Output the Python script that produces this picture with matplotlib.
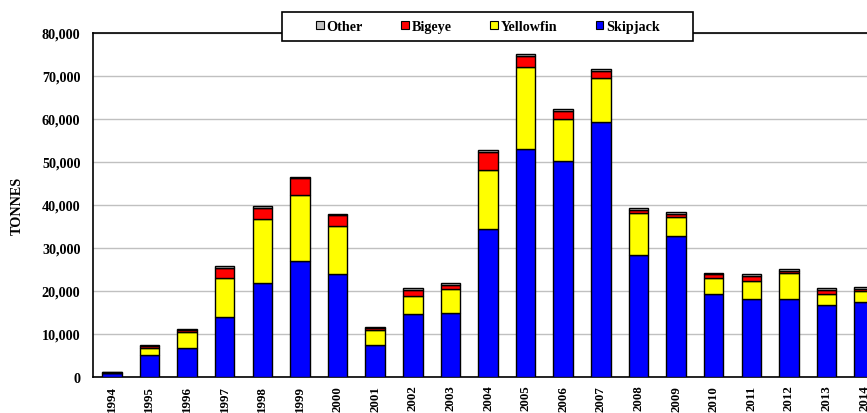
import matplotlib
matplotlib.use("Agg")
import matplotlib.pyplot as plt
from matplotlib.patches import Rectangle, Patch
from matplotlib.ticker import FuncFormatter
import numpy as np

years = [str(y) for y in range(1994, 2015)]
skipjack = [900, 5100, 6750, 13900, 21800, 26900, 23900, 7400, 14650, 14900, 34400,
            52950, 50200, 59300, 28400, 32900, 19400, 18150, 18150, 16750, 17350]
yellowfin = [100, 1650, 3650, 9050, 14900, 15500, 11300, 3500, 4100, 5600, 13650,
             19050, 9850, 10300, 9850, 4200, 3550, 4200, 5950, 2550, 2550]
bigeye = [50, 450, 500, 2450, 2550, 3800, 2400, 400, 1500, 900, 4200,
          2700, 1850, 1550, 600, 850, 950, 1150, 600, 950, 600]
other = [200, 300, 350, 500, 450, 400, 400, 300, 400, 400, 450,
         450, 400, 400, 400, 400, 400, 400, 400, 400, 450]

series = [("Skipjack", skipjack, "#0000FF"),
          ("Yellowfin", yellowfin, "#FFFF00"),
          ("Bigeye", bigeye, "#FF0000"),
          ("Other", other, "#C0C0C0")]

plt.rcParams['font.family'] = ['Liberation Serif', 'DejaVu Serif']
plt.rcParams['font.weight'] = 'bold'

FS = 10.2
W, H = 867, 414
fig = plt.figure(figsize=(W / 100, H / 100), dpi=100)
ax = fig.add_axes([93 / W, 1 - 378 / H, (883 - 93) / W, (378 - 34) / H])

x = np.arange(len(years))
bottom = np.zeros(len(years))
for name, vals, col in series:
    ax.bar(x, vals, width=0.52, bottom=bottom, color=col, edgecolor='black',
           linewidth=1.0, zorder=3)
    bottom += np.array(vals)

ax.set_xlim(-0.5, len(years) - 0.5)
ax.set_ylim(0, 80000)
ax.set_yticks(np.arange(0, 80001, 10000))
ax.yaxis.set_major_formatter(FuncFormatter(lambda v, p: f"{int(v):,}"))
ax.set_xticks(x)
ax.set_xticklabels(years, rotation=90, fontsize=9.3, fontweight='bold')
for lab in ax.get_yticklabels():
    lab.set_fontsize(FS)
    lab.set_fontweight('bold')
ax.tick_params(axis='both', length=0)
ax.tick_params(axis='y', pad=9)
ax.tick_params(axis='x', pad=5.5)
ax.grid(axis='y', color='#c0c0c0', linewidth=1.0, zorder=0)
for s in ax.spines.values():
    s.set_color('black')
    s.set_linewidth(1.2)
ax.set_ylabel("TONNES", fontsize=FS, fontweight='bold')
ax.yaxis.set_label_coords(-(93 - 24) / (883 - 93), 0.5)

# legend
fig.patches.append(Rectangle((282 / W, 1 - 42 / H), (693 - 282) / W, 29 / H,
                             transform=fig.transFigure, facecolor='white',
                             edgecolor='black', linewidth=1.2, zorder=5))
handles = [Patch(facecolor=c, edgecolor='black', linewidth=0.8, label=n)
           for n, _, c in series[::-1]]
leg = fig.legend(handles=handles, loc='center', ncol=4, frameon=False,
                 bbox_to_anchor=(488 / W, 1 - 27.5 / H),
                 prop={'size': FS, 'weight': 'bold'},
                 handlelength=0.55, handleheight=0.55, handletextpad=0.2,
                 columnspacing=2.7)
leg.set_zorder(6)

fig.savefig("out.png", dpi=100)
